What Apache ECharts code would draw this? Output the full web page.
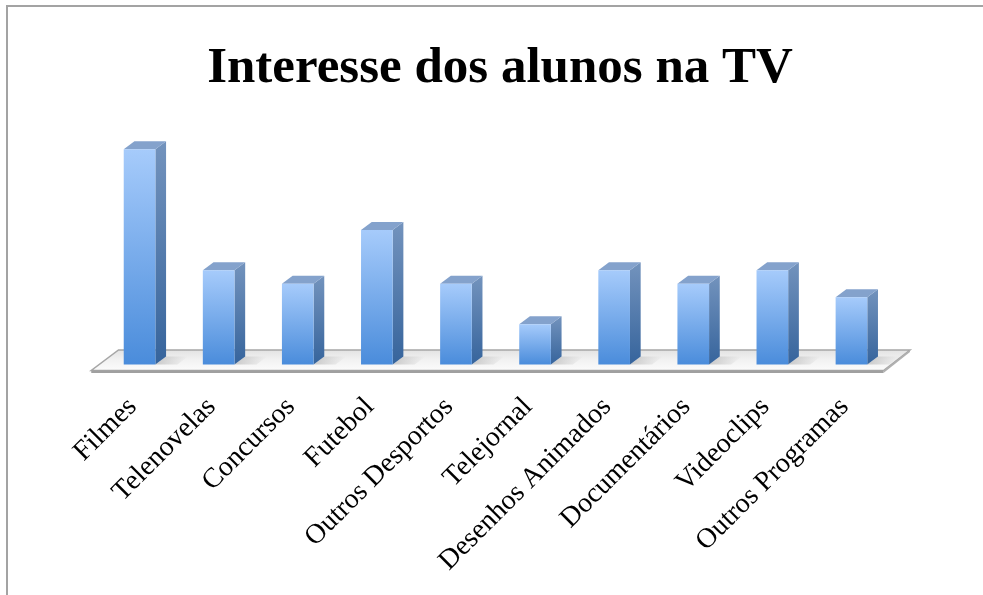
<!DOCTYPE html>
<html>
<head>
<meta charset="utf-8">
<title>Interesse dos alunos na TV</title>
<script src="https://cdn.jsdelivr.net/npm/echarts@6/dist/echarts.min.js"></script>
<style>
  html, body { margin: 0; padding: 0; background: #ffffff; }
  #chart { width: 983px; height: 595px; }
</style>
</head>
<body>
<div id="chart"></div>
<script>
// Programme categories and the number of students interested in each
const categories = [
  'Filmes', 'Telenovelas', 'Concursos', 'Futebol', 'Outros Desportos',
  'Telejornal', 'Desenhos Animados', 'Documentários', 'Videoclips', 'Outros Programas'
];
const values = [16, 7, 6, 10, 6, 3, 7, 6, 7, 5];
const chartTitle = 'Interesse dos alunos na TV';

// 3D look: depth offset of the bar sides
const DEPTH_X = 10.7;
const DEPTH_Y = 8;

function grad(top, bottom) {
  return new echarts.graphic.LinearGradient(0, 0, 0, 1, [
    { offset: 0, color: top },
    { offset: 1, color: bottom }
  ]);
}

// Draws one column as a front face, a right side face and a top face
function renderColumn(params, api) {
  const cat = api.value(0);
  const val = api.value(1);
  const top = api.coord([cat, val]);
  const base = api.coord([cat, 0]);
  const bw = api.size([1, 0])[0] * 0.4;
  const l = top[0] - bw / 2;
  const r = top[0] + bw / 2;
  const yt = top[1];
  const yb = base[1];
  return {
    type: 'group',
    children: [
      {
        // soft shadow cast on the floor to the right of the column
        type: 'polygon',
        shape: { points: [[r, yb], [r + DEPTH_X, yb - DEPTH_Y], [r + DEPTH_X + 22, yb - DEPTH_Y], [r + 22, yb]] },
        style: {
          fill: new echarts.graphic.LinearGradient(0, 0, 1, 0, [
            { offset: 0, color: 'rgba(150,150,150,0.45)' },
            { offset: 1, color: 'rgba(150,150,150,0)' }
          ])
        }
      },
      {
        type: 'polygon',
        shape: { points: [[r, yt], [r + DEPTH_X, yt - DEPTH_Y], [r + DEPTH_X, yb - DEPTH_Y], [r, yb]] },
        style: { fill: grad('#7393bd', '#36649c') }
      },
      {
        type: 'polygon',
        shape: { points: [[l, yt], [l + DEPTH_X, yt - DEPTH_Y], [r + DEPTH_X, yt - DEPTH_Y], [r, yt]] },
        style: { fill: '#84a2cc' }
      },
      {
        type: 'rect',
        shape: { x: l, y: yt, width: bw, height: yb - yt },
        style: { fill: grad('#a6cbfb', '#4a8cdb') }
      }
    ]
  };
}

// Draws the slanted floor slab under the columns
function renderFloor(params, api) {
  const cs = params.coordSys;
  const yb = cs.y + cs.height;
  const x0 = cs.x, x1 = cs.x + cs.width;
  const front = yb + 6, back = yb - 14.5;
  const fl = x0 - 8.75, fr = x1 - 7.5, bl = x0 + 18.5, br = x1 + 19;
  return {
    type: 'group',
    children: [
      {
        type: 'polygon',
        shape: { points: [[bl, back], [br, back], [fr, front], [fl, front]] },
        style: {
          fill: new echarts.graphic.LinearGradient(0, 0, 0, 1, [
            { offset: 0, color: '#e2e2e2' },
            { offset: 0.5, color: '#f2f2f2' },
            { offset: 1, color: '#fcfcfc' }
          ]),
          stroke: '#a6a6a6',
          lineWidth: 1.5
        }
      },
      {
        type: 'polygon',
        shape: { points: [[fl, front], [fr, front], [fr, front + 2.5], [fl, front + 2.5]] },
        style: { fill: '#a0a0a0' }
      },
      {
        type: 'polygon',
        shape: { points: [[fr, front], [br, back], [br, back + 2], [fr, front + 2.5]] },
        style: { fill: '#b0b0b0' }
      }
    ]
  };
}

const chart = echarts.init(document.getElementById('chart'), null, { renderer: 'canvas' });

chart.setOption({
  backgroundColor: '#ffffff',
  animation: false,
  graphic: [
    {
      type: 'text',
      x: 500,
      y: 69,
      style: {
        text: chartTitle,
        align: 'center',
        verticalAlign: 'middle',
        fontFamily: '"Liberation Serif", "DejaVu Serif", serif',
        fontWeight: 'bold',
        fontSize: 51,
        fill: '#000000'
      },
      silent: true
    },
    {
      type: 'rect',
      shape: { x: 7, y: 6, width: 1100, height: 700 },
      style: { fill: 'none', stroke: '#a3a3a3', lineWidth: 2 },
      silent: true,
      z: 100
    }
  ],
  grid: { left: 100, right: 92, top: 149.3, bottom: 230.5 },
  xAxis: {
    type: 'category',
    data: categories,
    axisLine: { show: false },
    axisTick: { show: false },
    axisLabel: {
      interval: 0,
      rotate: 45,
      margin: 31,
      padding: [0, 10, 0, 0],
      fontFamily: '"Liberation Serif", "DejaVu Serif", serif',
      fontSize: 28,
      color: '#000000'
    }
  },
  yAxis: {
    type: 'value',
    min: 0,
    max: 16,
    show: false,
    splitLine: { show: false }
  },
  series: [
    {
      type: 'custom',
      renderItem: renderFloor,
      data: [[0, 0]],
      z: 1,
      silent: true
    },
    {
      type: 'custom',
      renderItem: renderColumn,
      data: values.map((v, i) => [i, v]),
      encode: { x: 0, y: 1 },
      z: 2
    }
  ]
});
</script>
</body>
</html>
